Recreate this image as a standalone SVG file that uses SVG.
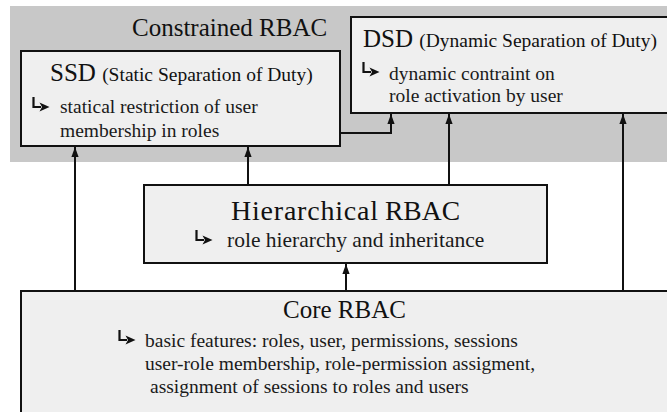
<svg xmlns="http://www.w3.org/2000/svg" width="667" height="412" viewBox="0 0 667 412">
  <style>
    .box { fill: #efefef; stroke: #111; stroke-width: 2; }
    .title { font-family: "Liberation Serif", "Times New Roman", serif; font-size: 25px; fill: #111; }
    .sub { font-size: 19.5px; }
    .body { font-family: "Liberation Serif", "Times New Roman", serif; font-size: 19.5px; fill: #1a1a1a; }
    .conn { fill: none; stroke: #111; stroke-width: 2; }
  </style>
  <defs>
    <marker id="head" viewBox="0 0 10 10" refX="10" refY="5" markerWidth="5" markerHeight="3.6" markerUnits="strokeWidth" orient="auto" preserveAspectRatio="none">
      <path d="M0,0 L10,5 L0,10 z" fill="#111"/>
    </marker>
    <!-- bent bullet arrow -->
    <g id="bullet">
      <path d="M1.5,0 V10 H9" fill="none" stroke="#111" stroke-width="2.2"/>
      <path d="M7.5,5.5 L17.5,10 L7.5,14.5 L10,10 z" fill="#111"/>
    </g>
  </defs>

  <!-- constrained RBAC region -->
  <g id="constrained">
    <rect x="10" y="6" width="670" height="156" fill="#c8c8c8"/>
    <text class="title" x="132" y="36">Constrained RBAC</text>
  </g>

  <g id="ssd">
    <rect class="box" x="21" y="51" width="319" height="95"/>
    <text class="title" x="50" y="81">SSD <tspan class="sub">(Static Separation of Duty)</tspan></text>
    <use href="#bullet" x="32" y="97"/>
    <text class="body" x="60" y="113">statical restriction of user</text>
    <text class="body" x="60" y="137">membership in roles</text>
  </g>

  <g id="dsd">
    <rect class="box" x="351" y="17" width="330" height="96"/>
    <text class="title" x="363" y="47">DSD <tspan class="sub">(Dynamic Separation of Duty)</tspan></text>
    <use href="#bullet" x="362" y="62"/>
    <text class="body" x="389" y="80">dynamic contraint on</text>
    <text class="body" x="389" y="102">role activation by user</text>
  </g>

  <g id="hierarchical">
    <rect class="box" x="144" y="185" width="403" height="78"/>
    <text class="title" x="231" y="220" style="font-size:28px" textLength="147" lengthAdjust="spacing">Hierarchical</text>
    <text class="title" x="385" y="220" style="font-size:27.5px" textLength="75" lengthAdjust="spacingAndGlyphs">RBAC</text>
    <use href="#bullet" x="195" y="230"/>
    <text class="body" x="227" y="247" style="font-size:21.5px">role hierarchy and inheritance</text>
  </g>

  <g id="core">
    <rect class="box" x="21" y="291" width="660" height="140"/>
    <text class="title" x="283" y="318">Core RBAC</text>
    <use href="#bullet" x="118" y="330"/>
    <text class="body" x="145" y="347">basic features: roles, user, permissions, sessions</text>
    <text class="body" x="145" y="370">user-role membership, role-permission assigment,</text>
    <text class="body" x="150" y="393">assignment of sessions to roles and users</text>
  </g>

  <g id="connectors">
    <path class="conn" d="M75,291 V147" marker-end="url(#head)"/>
    <path class="conn" d="M248,185 V147" marker-end="url(#head)"/>
    <path class="conn" d="M449,185 V114" marker-end="url(#head)"/>
    <path class="conn" d="M623,291 V114" marker-end="url(#head)"/>
    <path class="conn" d="M346,291 V264" marker-end="url(#head)"/>
    <path class="conn" d="M340,133 H391 V114" marker-end="url(#head)"/>
  </g>
</svg>
